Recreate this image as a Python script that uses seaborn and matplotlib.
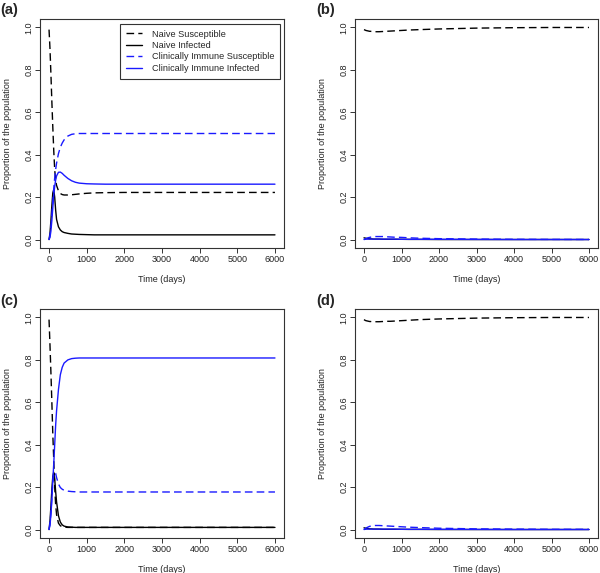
import matplotlib
matplotlib.use("Agg")
import matplotlib.pyplot as plt
import seaborn as sns

# ---------------- data ----------------
time_days = [0, 25, 50, 75, 100, 125, 150, 175, 200, 250, 300, 350, 400, 500,
             600, 700, 800, 1000, 1200, 1500, 2000, 3000, 4000, 5000, 6000]

series_names = ["Naive Susceptible", "Naive Infected",
                "Clinically Immune Susceptible", "Clinically Immune Infected"]

# panel (a)
ns_a = [0.99, 0.90, 0.78, 0.65, 0.53, 0.42, 0.33, 0.28, 0.255, 0.23, 0.217, 0.212, 0.210, 0.210,
        0.211, 0.213, 0.215, 0.218, 0.220, 0.221, 0.222, 0.222, 0.222, 0.222, 0.222]
ni_a = [0.0, 0.03, 0.09, 0.16, 0.22, 0.235, 0.20, 0.14, 0.095, 0.06, 0.045, 0.037, 0.033, 0.029,
        0.026, 0.025, 0.024, 0.023, 0.022, 0.022, 0.022, 0.022, 0.022, 0.022, 0.022]
cis_a = [0.0, 0.02, 0.06, 0.12, 0.18, 0.24, 0.29, 0.33, 0.36, 0.405, 0.435, 0.455, 0.470, 0.488,
         0.496, 0.499, 0.500, 0.500, 0.500, 0.500, 0.500, 0.500, 0.500, 0.500, 0.500]
cii_a = [0.0, 0.01, 0.04, 0.09, 0.15, 0.21, 0.25, 0.28, 0.30, 0.317, 0.318, 0.312, 0.303, 0.288,
         0.277, 0.270, 0.266, 0.263, 0.262, 0.261, 0.261, 0.261, 0.261, 0.261, 0.261]

# panel (b)
ns_b = [0.99, 0.988, 0.986, 0.985, 0.984, 0.983, 0.982, 0.982, 0.981, 0.981, 0.980, 0.980, 0.980, 0.981,
        0.982, 0.983, 0.984, 0.986, 0.988, 0.990, 0.993, 0.997, 0.999, 1.0, 1.0]
ni_b = [0.008, 0.007, 0.006, 0.005, 0.004, 0.004, 0.003, 0.003, 0.003, 0.002, 0.002, 0.002, 0.002, 0.001,
        0.001, 0.001, 0.001, 0.001, 0.0005, 0.0005, 0.0, 0.0, 0.0, 0.0, 0.0]
cis_b = [0.0, 0.002, 0.004, 0.006, 0.008, 0.009, 0.010, 0.011, 0.012, 0.013, 0.014, 0.014, 0.014, 0.014,
         0.013, 0.012, 0.011, 0.010, 0.008, 0.006, 0.004, 0.002, 0.001, 0.0005, 0.0003]
cii_b = [0.0, 0.001, 0.001, 0.002, 0.002, 0.002, 0.002, 0.002, 0.002, 0.002, 0.002, 0.002, 0.002, 0.002,
         0.002, 0.002, 0.002, 0.001, 0.001, 0.001, 0.001, 0.0005, 0.0, 0.0, 0.0]

# panel (c)
ns_c = [0.99, 0.87, 0.74, 0.60, 0.45, 0.33, 0.20, 0.12, 0.07, 0.03, 0.018, 0.013, 0.011, 0.010,
        0.010, 0.010, 0.010, 0.010, 0.010, 0.010, 0.010, 0.010, 0.010, 0.010, 0.010]
ni_c = [0.0, 0.04, 0.11, 0.19, 0.25, 0.27, 0.24, 0.18, 0.13, 0.065, 0.035, 0.022, 0.016, 0.012,
        0.011, 0.010, 0.010, 0.010, 0.010, 0.010, 0.010, 0.010, 0.010, 0.010, 0.010]
cis_c = [0.0, 0.03, 0.08, 0.15, 0.22, 0.26, 0.27, 0.265, 0.245, 0.215, 0.198, 0.190, 0.185, 0.181,
         0.179, 0.178, 0.177, 0.177, 0.177, 0.177, 0.177, 0.177, 0.177, 0.177, 0.177]
cii_c = [0.0, 0.02, 0.07, 0.14, 0.23, 0.31, 0.40, 0.49, 0.56, 0.66, 0.73, 0.765, 0.785, 0.800,
         0.806, 0.808, 0.809, 0.809, 0.809, 0.809, 0.809, 0.809, 0.809, 0.809, 0.809]

# panel (d)
ns_d = [0.99, 0.987, 0.985, 0.984, 0.983, 0.982, 0.981, 0.981, 0.980, 0.980, 0.980, 0.980, 0.980, 0.981,
        0.982, 0.982, 0.983, 0.985, 0.987, 0.990, 0.993, 0.997, 0.999, 1.0, 1.0]
ni_d = [0.008, 0.007, 0.006, 0.005, 0.004, 0.004, 0.003, 0.003, 0.003, 0.002, 0.002, 0.002, 0.002, 0.001,
        0.001, 0.001, 0.001, 0.001, 0.0005, 0.0005, 0.0, 0.0, 0.0, 0.0, 0.0]
cis_d = [0.0, 0.003, 0.006, 0.009, 0.011, 0.013, 0.015, 0.016, 0.017, 0.018, 0.019, 0.019, 0.019, 0.018,
         0.017, 0.016, 0.015, 0.013, 0.011, 0.009, 0.006, 0.003, 0.002, 0.001, 0.001]
cii_d = [0.0, 0.001, 0.001, 0.002, 0.002, 0.002, 0.002, 0.002, 0.002, 0.002, 0.002, 0.002, 0.002, 0.002,
         0.002, 0.002, 0.002, 0.001, 0.001, 0.001, 0.001, 0.0005, 0.0, 0.0, 0.0]

panels = {
    "(a)": [ns_a, ni_a, cis_a, cii_a],
    "(b)": [ns_b, ni_b, cis_b, cii_b],
    "(c)": [ns_c, ni_c, cis_c, cii_c],
    "(d)": [ns_d, ni_d, cis_d, cii_d],
}
x_ticks = [0, 1000, 2000, 3000, 4000, 5000, 6000]
y_ticks = [0.0, 0.2, 0.4, 0.6, 0.8, 1.0]

# ---------------- style ----------------
sns.set_style("ticks")
plt.rcParams['font.family'] = ['Liberation Sans', 'DejaVu Sans']

W, H = 600, 573
fig = plt.figure(figsize=(W / 100, H / 100), dpi=100)

def px_axes(left, top, right, bottom):
    return fig.add_axes([left / W, 1 - bottom / H, (right - left) / W, (bottom - top) / H])

boxes = {
    "(a)": (40, 19, 284, 248),
    "(b)": (355, 19, 598, 248),
    "(c)": (40, 309, 284, 538),
    "(d)": (355, 309, 598, 538),
}
letter_pos = {"(a)": (0, 10), "(b)": (316, 10), "(c)": (0, 301), "(d)": (316, 301)}

colors = ["black", "black", "#1a1aff", "#1a1aff"]
dashed = [True, False, True, False]
DASH = (5.5, 3)

for key, vals in panels.items():
    ax = px_axes(*boxes[key])
    for name, v, c, d in zip(series_names, vals, colors, dashed):
        sns.lineplot(x=time_days, y=v, ax=ax, errorbar=None,
                     color=c, linewidth=1.0, label=name)
        if d:
            ax.get_lines()[-1].set_dashes(DASH)
    ax.set_xlim(-240, 6240)
    ax.set_ylim(-0.04, 1.04)
    ax.set_xticks(x_ticks)
    ax.set_yticks(y_ticks)
    ax.set_xticklabels([str(t) for t in x_ticks])
    ax.set_yticklabels([f"{t:.1f}" for t in y_ticks])
    for lab in ax.get_yticklabels():
        lab.set_rotation(90)
        lab.set_va("center")
        lab.set_ha("right")
    ax.tick_params(axis="both", labelsize=6.5, length=3.4, width=0.7,
                   color="#333333", labelcolor="#222222", pad=1.5)
    for s in ax.spines.values():
        s.set_visible(True)
        s.set_color("#333333")
        s.set_linewidth(0.8)
    ax.set_xlabel("Time (days)", fontsize=6.5, labelpad=8, color="#222222")
    ax.set_ylabel("Proportion of the population", fontsize=6.5, labelpad=9, color="#222222")
    if ax.get_legend() is not None:
        ax.get_legend().remove()
    if key == "(a)":
        ax.legend(loc="upper right", bbox_to_anchor=(280 / W, 1 - 24 / H),
                  bbox_transform=fig.transFigure, borderaxespad=0,
                  fontsize=6.6, frameon=True, fancybox=False, framealpha=1,
                  edgecolor="#333333", handlelength=1.7, handletextpad=1.1,
                  labelspacing=0.26, borderpad=0.62)
        ax.get_legend().get_frame().set_linewidth(0.8)
    lx, ly = letter_pos[key]
    fig.text(lx / W, 1 - ly / H, key, fontsize=10.5, fontweight="bold",
             ha="left", va="center")

fig.savefig("out.png", dpi=100)
